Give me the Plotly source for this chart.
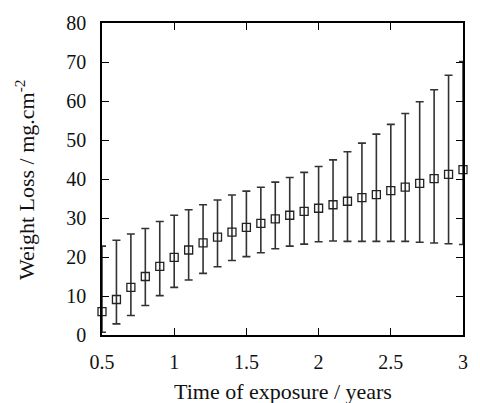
import plotly.graph_objects as go

years = [0.5, 0.6, 0.7, 0.8, 0.9, 1.0, 1.1, 1.2, 1.3, 1.4, 1.5, 1.6, 1.7,
         1.8, 1.9, 2.0, 2.1, 2.2, 2.3, 2.4, 2.5, 2.6, 2.7, 2.8, 2.9, 3.0]
weight_loss = [6.0, 9.1, 12.2, 15.0, 17.6, 19.9, 21.8, 23.6, 25.1, 26.4, 27.6, 28.6, 29.8,
               30.7, 31.7, 32.5, 33.4, 34.3, 35.2, 36.0, 37.0, 37.9, 38.9, 40.1, 41.2, 42.4]
upper = [22.8, 24.3, 25.9, 27.3, 29.1, 30.7, 32.1, 33.4, 34.6, 35.9, 36.9, 37.9, 39.2,
         40.4, 41.7, 43.2, 44.9, 47.0, 49.2, 51.5, 54.0, 56.8, 59.8, 62.9, 66.6, 70.1]
lower = [0.7, 2.85, 5.0, 7.55, 10.1, 12.2, 14.1, 15.8, 17.5, 19.1, 20.1, 21.1, 22.1,
         22.8, 23.3, 23.9, 24.1, 24.0, 24.0, 24.0, 24.0, 24.0, 23.8, 23.6, 23.4, 23.2]

x_ticks = [0.5, 1, 1.5, 2, 2.5, 3]
x_ticklabels = ["0.5", "1", "1.5", "2", "2.5", "3"]
y_ticks = [0, 10, 20, 30, 40, 50, 60, 70, 80]

err_plus = [u - v for u, v in zip(upper, weight_loss)]
err_minus = [v - l for v, l in zip(weight_loss, lower)]

FONT = "'Liberation Serif', 'Times New Roman', 'DejaVu Serif', serif"

fig = go.Figure()
fig.add_trace(go.Scatter(
    x=years, y=weight_loss, mode="markers",
    marker=dict(symbol="square-open", size=8, color="#222222", line=dict(width=1.3)),
    error_y=dict(type="data", symmetric=False, array=err_plus, arrayminus=err_minus,
                 color="#333333", thickness=1.6, width=4),
    cliponaxis=False, showlegend=False,
))

axis_common = dict(
    showgrid=False, zeroline=False, showline=True, linecolor="black", linewidth=1.5,
    mirror="ticks", ticks="inside", ticklen=7, tickwidth=1.3, tickcolor="black",
    tickfont=dict(family=FONT, size=20, color="#111111"),
)

fig.update_layout(
    width=480, height=403,
    margin=dict(l=102, r=12, t=18, b=68),
    paper_bgcolor="white", plot_bgcolor="white",
    font=dict(family=FONT),
    xaxis=dict(range=[0.5, 3], tickvals=x_ticks, ticktext=x_ticklabels,
               ticklabelstandoff=8, **axis_common),
    yaxis=dict(range=[0, 80], tickvals=y_ticks, ticklabelstandoff=10, **axis_common),
    annotations=[
        dict(text="Time of exposure / years", xref="paper", yref="paper",
             x=0.5, y=0, yshift=-56, xanchor="center", yanchor="middle",
             showarrow=False, font=dict(family=FONT, size=22, color="#111111")),
        dict(text="Weight Loss / mg.cm<sup>-2</sup>", xref="paper", yref="paper",
             x=0, y=0.5, xshift=-77, yshift=-1, textangle=-90, xanchor="center", yanchor="middle",
             showarrow=False, font=dict(family=FONT, size=22, color="#111111")),
    ],
)

fig.write_html("out.html")
